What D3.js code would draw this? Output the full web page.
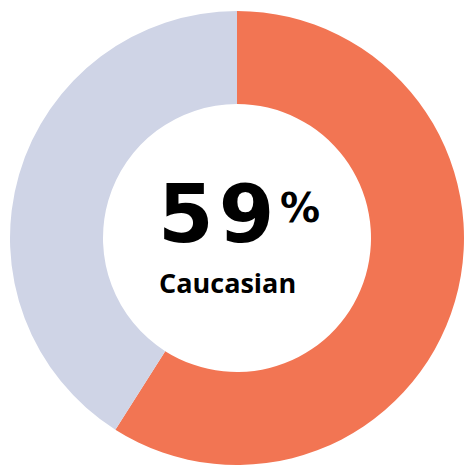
<!DOCTYPE html>
<html>
<head>
<meta charset="utf-8">
<script src="https://cdn.jsdelivr.net/npm/d3@7"></script>
<style>
  html, body { margin: 0; padding: 0; background: #fff; }
  svg { display: block; }
</style>
</head>
<body>
<svg id="chart" width="466" height="465"></svg>
<script>
// Share of respondents by group
const categories = ["Caucasian", "Other"];
const values = [59, 41];
const colors = ["#F27553", "#CFD4E6"];
const headlineValue = values[0];
const headlineLabel = categories[0];

const svg = d3.select("#chart");
const cx = 237, cy = 238;
const outerR = 227, innerR = 134;

const pie = d3.pie().sort(null).value(d => d);
const arc = d3.arc().innerRadius(innerR).outerRadius(outerR);
const color = d3.scaleOrdinal().domain(categories).range(colors);

const g = svg.append("g").attr("transform", `translate(${cx},${cy})`);

g.selectAll("path")
  .data(pie(values))
  .join("path")
  .attr("d", arc)
  .attr("fill", (d, i) => color(categories[i]));

// Headline number
g.append("text")
  .attr("x", -79)
  .attr("y", 4)
  .attr("font-family", "'DejaVu Sans', sans-serif")
  .attr("font-weight", 700)
  .attr("font-size", 80)
  .attr("letter-spacing", 5)
  .attr("fill", "#000")
  .text(headlineValue);

// Raised percent sign
g.append("text")
  .attr("x", 43)
  .attr("y", -16)
  .attr("font-family", "'DejaVu Sans', sans-serif")
  .attr("font-weight", 700)
  .attr("font-size", 40)
  .attr("fill", "#000")
  .text("%");

g.append("text")
  .attr("x", -78)
  .attr("y", 55)
  .attr("font-family", "'Open Sans', sans-serif")
  .attr("font-weight", 700)
  .attr("font-size", 27)
  .attr("fill", "#000")
  .text(headlineLabel);
</script>
</body>
</html>
